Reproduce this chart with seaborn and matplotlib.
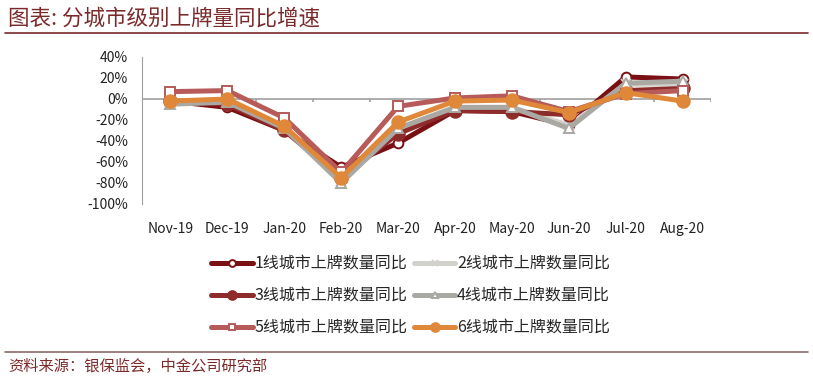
import numpy as np
import pandas as pd
import seaborn as sns
import matplotlib.pyplot as plt
from matplotlib.ticker import FuncFormatter

months = ['Nov-19', 'Dec-19', 'Jan-20', 'Feb-20', 'Mar-20', 'Apr-20',
          'May-20', 'Jun-20', 'Jul-20', 'Aug-20']
tier1 = [-2, -8, -30, -65, -42, -11, -12, -25, 21, 19]
tier2 = [-3, -2, -27, -78, -28, -8, -8, -25, 14, 14]
tier3 = [-2, -5, -30, -75, -33, -11, -12, -15, 8, 10]
tier4 = [-5, -3, -28, -80, -28, -8, -8, -28, 15, 17]
tier5 = [7, 8, -18, -70, -7, 1, 3, -12, 5, 8]
tier6 = [-2, 0, -26, -75, -22, -2, -1, -13, 6, -2]
labels = ['1线城市上牌数量同比', '2线城市上牌数量同比', '3线城市上牌数量同比',
          '4线城市上牌数量同比', '5线城市上牌数量同比', '6线城市上牌数量同比']
y_ticks = [40, 20, 0, -20, -40, -60, -80, -100]

sns.set_style('white')
plt.rcParams['font.family'] = ['Noto Sans CJK SC', 'DejaVu Sans']

# colour, marker, face colour
styles = [
    ('#7a1014', 'o', 'white'),
    ('#d3d1cb', 'x', '#d3d1cb'),
    ('#8e2b2b', 'o', '#8e2b2b'),
    ('#a9a8a2', '^', 'white'),
    ('#b65a5a', 's', 'white'),
    ('#e0883a', 'o', '#e0883a'),
]
series = [tier1, tier2, tier3, tier4, tier5, tier6]

fig = plt.figure(figsize=(8.13, 3.83), dpi=100)
ax = fig.add_axes([0.1747, 0.4674, 0.6999, 0.3838])

for vals, lab, (col, mk, fc) in zip(series, labels, styles):
    df = pd.DataFrame({'month': months, 'value': vals})
    ms = 9 if mk == 'o' and fc != 'white' else 7
    sns.lineplot(data=df, x='month', y='value', ax=ax, color=col, lw=3.6,
                 marker=mk, markersize=ms, markerfacecolor=fc,
                 markeredgecolor=col, markeredgewidth=1.4, label=lab,
                 sort=False)

ax.set_xlim(-0.5, len(months) - 0.5)
ax.set_ylim(-100, 40)
ax.set_yticks(y_ticks)
ax.yaxis.set_major_formatter(FuncFormatter(lambda v, p: f'{v:.0f}%'))
ax.set_xlabel('')
ax.set_ylabel('')
for s in ['top', 'right', 'bottom']:
    ax.spines[s].set_visible(False)
ax.spines['left'].set_color('#a0a0a0')
ax.axhline(0, color='#a0a0a0', lw=1.2, zorder=0)
ax.vlines(np.arange(0.5, len(months) - 0.5 + 1, 1), -3, 0,
          color='#a0a0a0', lw=1.2, zorder=0)
ax.tick_params(axis='x', length=0, pad=13, labelsize=10, labelcolor='#222222')
ax.tick_params(axis='y', length=0, pad=10, labelsize=10, labelcolor='#222222')
ax.get_legend().remove()

# legend fills by column, so reorder to read row by row
handles, labs = ax.get_legend_handles_labels()
order = [0, 2, 4, 1, 3, 5]
fig.legend([handles[i] for i in order], [labs[i] for i in order], ncol=2,
           loc='upper left', bbox_to_anchor=(0.252, 0.35), frameon=False,
           fontsize=11.5, handlelength=2.6, columnspacing=0.4,
           handletextpad=0.1, labelspacing=0.95, borderaxespad=0,
           markerscale=0.7)

red = '#7b2a2a'
fig.text(0.01, 0.952, '图表: 分城市级别上牌量同比增速', color=red, fontsize=15.5,
         style='italic', va='center', ha='left')
fig.add_artist(plt.Line2D([0.006, 0.994], [0.915, 0.915], color=red, lw=1.2))
fig.add_artist(plt.Line2D([0.006, 0.994], [0.08, 0.08], color='#8a6a6a', lw=1.2))
fig.text(0.01, 0.043, '资料来源：银保监会，中金公司研究部', color=red,
         fontsize=11, style='italic', va='center', ha='left')

fig.savefig('out.png', dpi=100)
